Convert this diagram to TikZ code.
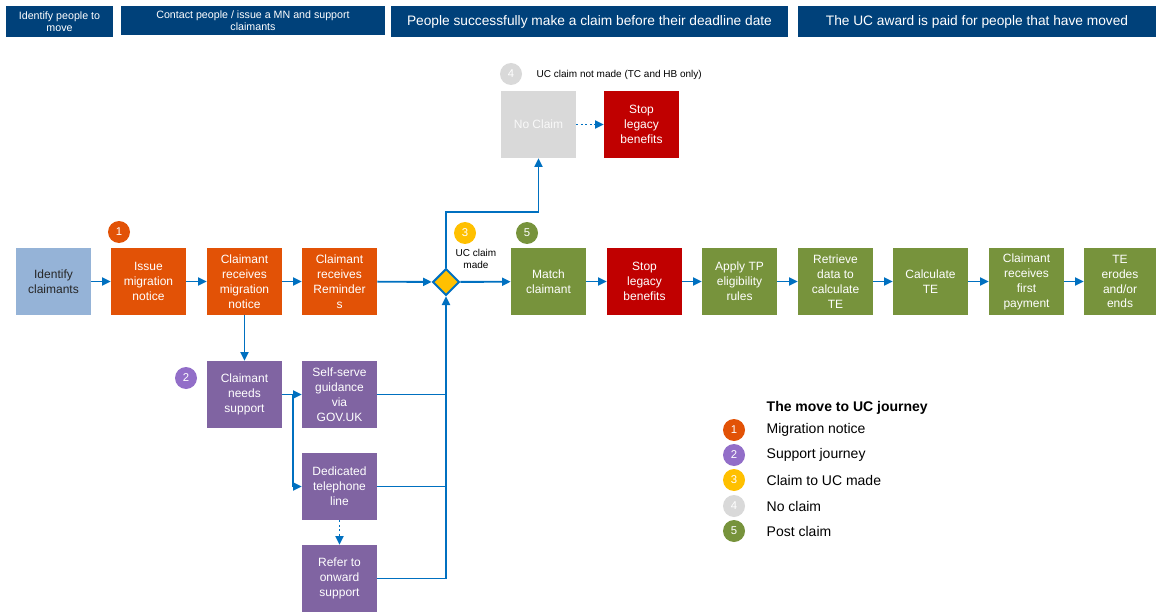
\documentclass[tikz,border=0pt]{standalone}
\usepackage{fontspec}
\setmainfont{Liberation Sans}
\usetikzlibrary{shapes.geometric, arrows.meta}

\definecolor{hdrblue}{RGB}{0,65,122}
\definecolor{idblue}{RGB}{149,179,215}
\definecolor{mnorange}{RGB}{226,82,6}
\definecolor{suppurple}{RGB}{128,100,162}
\definecolor{numpurple}{RGB}{146,110,200}
\definecolor{ucyellow}{RGB}{255,192,0}
\definecolor{nogray}{RGB}{217,217,217}
\definecolor{postgreen}{RGB}{119,147,60}
\definecolor{stopred}{RGB}{192,0,0}
\definecolor{lineblue}{RGB}{0,112,192}

\begin{document}
\begin{tikzpicture}[x=0.75pt, y=-0.75pt, >={Triangle[length=6.5pt, width=6pt]},
    block/.style={minimum width=56.25pt, minimum height=50.25pt, inner sep=1pt, text=white, align=center, font=\fontsize{9}{11.2}\selectfont},
    hdr/.style={fill=hdrblue, text=white, align=center, inner sep=0pt},
    num/.style={circle, minimum size=16.5pt, inner sep=0pt, text=white, font=\fontsize{8.5}{10}\selectfont},
    link/.style={->, draw=lineblue, line width=1.4pt},
    line/.style={draw=lineblue, line width=1.4pt}]

    \useasboundingbox (0,0) rectangle (1156,613);

    % headers
    \node[hdr, minimum width=80.25pt, minimum height=23.25pt, font=\fontsize{8}{9}\selectfont] (h1) at (59.5,21.5) {Identify people to\\move};
    \node[hdr, minimum width=198pt, minimum height=21.75pt, font=\fontsize{8}{9}\selectfont] (h2) at (253,20.5) {Contact people / issue a MN and support\\claimants};
    \node[hdr, minimum width=297.75pt, minimum height=23.25pt, font=\fontsize{10.3}{12}\selectfont] (h3) at (589.5,21.5) {People successfully make a claim before their deadline date};
    \node[hdr, minimum width=268.5pt, minimum height=23.25pt, font=\fontsize{10.3}{12}\selectfont] (h4) at (977,21.5) {The UC award is paid for people that have moved};

    % main row
    \node[block, fill=idblue, text=black!85] (ident) at (53.5,281.5) {Identify\\claimants};
    \node[block, fill=mnorange] (issue) at (148.5,281.5) {Issue\\migration\\notice};
    \node[block, fill=mnorange] (recv) at (244.5,281.5) {Claimant\\receives\\migration\\notice};
    \node[block, fill=mnorange] (remind) at (339.5,281.5) {Claimant\\receives\\Reminder\\s};
    \node[diamond, fill=ucyellow, draw=lineblue, line width=1.5pt, minimum size=20pt, inner sep=0pt] (dia) at (446,282) {};
    \node[block, fill=postgreen] (match) at (548.5,281.5) {Match\\claimant};
    \node[block, fill=stopred] (stop) at (644.5,281.5) {Stop\\legacy\\benefits};
    \node[block, fill=postgreen] (apply) at (739.5,281.5) {Apply TP\\eligibility\\rules};
    \node[block, fill=postgreen] (retr) at (835.5,281.5) {Retrieve\\data to\\calculate\\TE};
    \node[block, fill=postgreen] (calc) at (930.5,281.5) {Calculate\\TE};
    \node[block, fill=postgreen] (first) at (1026.5,281.5) {Claimant\\receives\\first\\payment};
    \node[block, fill=postgreen, minimum width=54pt] (erode) at (1120,281.5) {TE\\erodes\\and/or\\ends};

    % no claim
    \node[block, fill=nogray, text=white!95!gray] (noclaim) at (538.5,124.5) {No Claim};
    \node[block, fill=stopred] (stop2) at (641.5,124.5) {Stop\\legacy\\benefits};

    % support journey
    \node[block, fill=suppurple] (need) at (244.5,394.5) {Claimant\\needs\\support};
    \node[block, fill=suppurple] (self) at (339.5,394.5) {Self-serve\\guidance\\via\\GOV.UK};
    \node[block, fill=suppurple] (tel) at (339.5,486.5) {Dedicated\\telephone\\line};
    \node[block, fill=suppurple] (refer) at (339.5,578.5) {Refer to\\onward\\support};

    % step numbers
    \node[num, fill=mnorange] (n1) at (119,232) {1};
    \node[num, fill=numpurple] (n2) at (186,378) {2};
    \node[num, fill=ucyellow] (n3) at (465,233) {3};
    \node[num, fill=nogray] (n4) at (511,74) {4};
    \node[num, fill=postgreen] (n5) at (527,233) {5};

    % labels
    \node[align=center, font=\fontsize{7.5}{9}\selectfont] (made) at (476,259) {UC claim\\made};
    \node[anchor=west, font=\fontsize{7.5}{9}\selectfont] (notmade) at (532,75) {UC claim not made (TC and HB only)};

    % connectors
    \draw[link] (ident) -- (issue);
    \draw[link] (issue) -- (recv);
    \draw[link] (recv) -- (remind);
    \draw[link] (remind) -- (dia);
    \draw[link] (dia) -- (match);
    \draw[link] (match) -- (stop);
    \draw[link] (stop) -- (apply);
    \draw[link] (apply) -- (retr);
    \draw[link] (retr) -- (calc);
    \draw[link] (calc) -- (first);
    \draw[link] (first) -- (erode);

    \coordinate (bend) at (538.5,212);
    \draw[link] (dia) |- (bend) -- (noclaim);
    \draw[link, dotted] (noclaim) -- (stop2);

    \draw[link] (recv) -- (need);
    \coordinate (split) at (293,394.5);
    \draw[line] (need) -- (split);
    \draw[link] (split) -- (self);
    \draw[link] (split) |- (tel);
    \draw[link, dotted] (tel) -- (refer);
    \draw[line] (self) -- (self -| dia);
    \draw[line] (tel) -- (tel -| dia);
    \draw[link] (refer) -| (dia);

    % legend
    \node[anchor=west, font=\fontsize{10.5}{12}\selectfont\bfseries] (legtitle) at (762,408) {The move to UC journey};
    \foreach \n/\col/\txt/\y in {1/mnorange/Migration notice/430, 2/numpurple/Support journey/455, 3/ucyellow/Claim to UC made/480, 4/nogray/No claim/506, 5/postgreen/Post claim/531} {
        \node[num, fill=\col] (leg\n) at (734,\y) {\n};
        \node[anchor=west, font=\fontsize{10.5}{12}\selectfont] (legtxt\n) at (762,\y) {\txt};
    }

\end{tikzpicture}
\end{document}
